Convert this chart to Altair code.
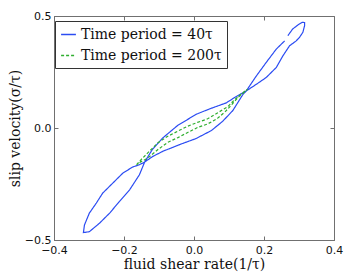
import altair as alt
import pandas as pd

# Blue loop (Time period = 40τ), traced in drawing order
blue_x = [0.259, 0.235, 0.206, 0.178, 0.149, 0.139, 0.111, 0.082, 0.050, 0.006,
          -0.041, -0.089, -0.119, -0.141, -0.156, -0.175, -0.203, -0.232, -0.261, -0.279,
          -0.299, -0.313, -0.316, -0.299, -0.270, -0.241, -0.213, -0.184, -0.156, -0.141,
          -0.119, -0.089, -0.047, 0.006, 0.044, 0.092, 0.121, 0.149, 0.178, 0.206,
          0.235, 0.254, 0.273, 0.292, 0.301, 0.311, 0.316, 0.316, 0.309, 0.297,
          0.282, 0.268]
blue_y = [0.389, 0.352, 0.292, 0.232, 0.165, 0.148, 0.078, 0.030, -0.011, -0.047,
          -0.074, -0.104, -0.128, -0.152, -0.164, -0.174, -0.201, -0.246, -0.291, -0.335,
          -0.380, -0.433, -0.467, -0.463, -0.425, -0.380, -0.328, -0.276, -0.209, -0.152,
          -0.096, -0.044, 0.011, 0.061, 0.085, 0.112, 0.141, 0.165, 0.195, 0.225,
          0.270, 0.322, 0.367, 0.389, 0.404, 0.427, 0.457, 0.471, 0.472, 0.460,
          0.442, 0.412]

# Green loop (Time period = 200τ)
green_x = [-0.164, -0.151, -0.132, -0.103, -0.075, -0.046, -0.018, 0.010, 0.039, 0.068,
           0.097, 0.116, 0.135, 0.153, 0.144, 0.125, 0.107, 0.090, 0.067, 0.039,
           0.010, -0.018, -0.046, -0.075, -0.103, -0.132, -0.153, -0.164]
green_y = [-0.164, -0.141, -0.111, -0.066, -0.037, -0.014, 0.008, 0.025, 0.041, 0.068,
           0.096, 0.126, 0.152, 0.173, 0.161, 0.135, 0.103, 0.074, 0.043, 0.018,
           0.002, -0.020, -0.043, -0.064, -0.096, -0.134, -0.152, -0.164]

series_names = ["Time period = 40τ", "Time period = 200τ"]
series_colors = ["#2b4cf2", "#2fae2f"]
x_ticks = [-0.4, -0.2, 0, 0.2, 0.4]
y_ticks = [-0.5, 0, 0.5]

rows = []
for i, (x, y) in enumerate(zip(blue_x, blue_y)):
    rows.append({"x": x, "y": y, "series": series_names[0], "order": i})
for i, (x, y) in enumerate(zip(green_x, green_y)):
    rows.append({"x": x, "y": y, "series": series_names[1], "order": i})
df = pd.DataFrame(rows)

W, H = 280, 224
xscale = alt.Scale(domain=[-0.4, 0.4], nice=False, zero=False)
yscale = alt.Scale(domain=[-0.5, 0.5], nice=False, zero=False)
axis_col = "#707070"
lab_font = "DejaVu Sans"
title_font = "DejaVu Serif"

main = alt.Chart(df).mark_line(strokeWidth=1.2, clip=True).encode(
    x=alt.X("x:Q", scale=xscale, axis=alt.Axis(
        values=x_ticks, title="fluid shear rate(1/τ)", ticks=False, tickSize=0,
        labelPadding=4, labelFlush=False, labelOverlap=False, domainColor=axis_col,
        labelFont=lab_font, labelFontSize=11, labelColor="#111",
        titleFont=title_font, titleFontSize=14, titleFontWeight="normal",
        titleColor="#111", titlePadding=2, grid=False)),
    y=alt.Y("y:Q", scale=yscale, axis=alt.Axis(
        values=y_ticks, title="slip velocity(σ/τ)", ticks=False, tickSize=0,
        labelPadding=3, labelFlush=False, labelOverlap=False, domainColor=axis_col,
        labelFont=lab_font, labelFontSize=11, labelColor="#111",
        titleFont=title_font, titleFontSize=14, titleFontWeight="normal",
        titleColor="#111", titlePadding=2, grid=False)),
    color=alt.Color("series:N", scale=alt.Scale(domain=series_names, range=series_colors),
                    legend=alt.Legend(title=None, orient="none", legendX=1, legendY=5,
                                      strokeColor="#333", fillColor="white", padding=5,
                                      labelFont=title_font, labelFontSize=14, labelColor="#111",
                                      labelLimit=300, symbolType="stroke", symbolSize=220,
                                      symbolStrokeWidth=1.3, rowPadding=5, labelOffset=4)),
    strokeDash=alt.StrokeDash("series:N", scale=alt.Scale(domain=series_names, range=[[1, 0], [3, 2]]),
                              legend=alt.Legend(title=None, orient="none", legendX=1, legendY=5)),
    detail="series:N",
    order="order:Q",
)

def tick_layer(xorient, yorient):
    return alt.Chart(df).mark_point(opacity=0).encode(
        x=alt.X("x:Q", scale=xscale, axis=alt.Axis(
            orient=xorient, offset=-H, values=x_ticks, labels=False, domain=False,
            ticks=True, tickSize=4, tickColor=axis_col, title=None, grid=False)),
        y=alt.Y("y:Q", scale=yscale, axis=alt.Axis(
            orient=yorient, offset=-W, values=y_ticks, labels=False, domain=False,
            ticks=True, tickSize=4, tickColor=axis_col, title=None, grid=False)),
    )

chart = alt.layer(main, tick_layer("top", "right"), tick_layer("bottom", "left")).resolve_axis(
    x="independent", y="independent"
).properties(
    width=W, height=H, autosize="none",
    padding={"left": 46, "top": 8, "right": 15, "bottom": 36},
).configure_view(stroke=axis_col, strokeWidth=1)

chart.save("out.html", embed_options={"renderer": "svg", "actions": False})
